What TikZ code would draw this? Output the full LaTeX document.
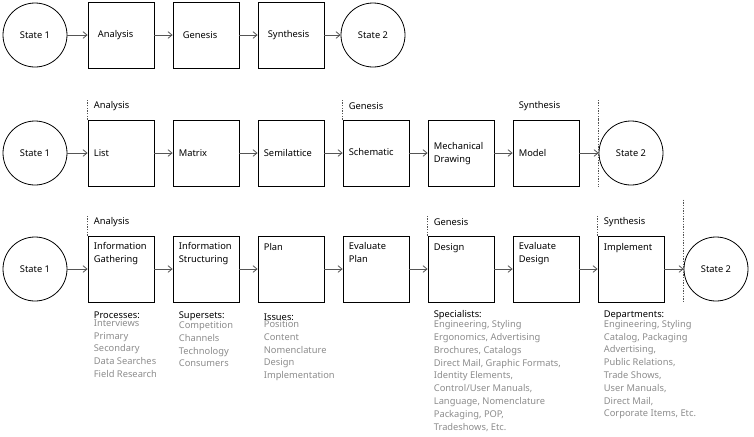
\documentclass[tikz,border=0pt]{standalone}
\usepackage{fontspec}
\setmainfont{Noto Sans}
\usetikzlibrary{arrows.meta}
\usetikzlibrary{calc}
\usetikzlibrary{positioning}
\definecolor{linegray}{HTML}{555555}
\definecolor{itemgray}{HTML}{8C8C8C}

\begin{document}
\begin{tikzpicture}[
  x=0.75pt, y=-0.75pt,
  every node/.style={font=\fontsize{7}{9.6}\selectfont},
  > = {Straight Barb[length=3pt,width=5pt]},
  box/.style = {draw,line width=0.6pt,rectangle,minimum size=49.5pt,inner sep=0pt},
  state/.style = {draw,line width=0.6pt,circle,minimum size=48pt,inner sep=0pt},
  flow/.style = {->,draw=linegray,line width=0.6pt},
  phase/.style = {draw=linegray,line width=0.4pt,dash pattern=on 1pt off 1pt},
  txt/.style = {inner sep=0pt,align=left},
  items/.style = {inner sep=0pt,align=left,text=itemgray}
  ]
	\useasboundingbox (0,0) rectangle (754,436);

	% first row
	\node[state] (a1) at (35,35) {State 1};
	\node[box] (a2) at (121,35) {};
	\node[box] (a3) at (206,35) {};
	\node[box] (a4) at (291,35) {};
	\node[state] (a5) at (373,35) {State 2};
	\node[txt,anchor=west] at ([xshift=7.5pt]a2.west) {Analysis};
	\node[txt,anchor=west] at ([xshift=7.5pt]a3.west) {Genesis};
	\node[txt,anchor=west] at ([xshift=7.5pt]a4.west) {Synthesis};
	\draw[flow] (a1) -- (a2);
	\draw[flow] (a2) -- (a3);
	\draw[flow] (a3) -- (a4);
	\draw[flow] (a4) -- (a5);

	% second row
	\node[state] (b1) at (35,153) {State 1};
	\node[box] (b2) at (121,153) {};
	\node[box] (b3) at (206,153) {};
	\node[box] (b4) at (291,153) {};
	\node[box] (b5) at (376,153) {};
	\node[box] (b6) at (461,153) {};
	\node[box] (b7) at (546,153) {};
	\node[state] (b8) at (631,153) {State 2};
	\node[txt,anchor=west] at ([xshift=4.5pt]b2.west) {List};
	\node[txt,anchor=west] at ([xshift=4.5pt]b3.west) {Matrix};
	\node[txt,anchor=west] at ([xshift=4.5pt]b4.west) {Semilattice};
	\node[txt,anchor=west] at ([xshift=4.5pt,yshift=1pt]b5.west) {Schematic};
	\node[txt,anchor=north west] at ([xshift=4.5pt,yshift=-17pt]b6.north west) {Mechanical\\Drawing};
	\node[txt,anchor=west] at ([xshift=4.5pt]b7.west) {Model};
	\draw[flow] (b1) -- (b2);
	\draw[flow] (b2) -- (b3);
	\draw[flow] (b3) -- (b4);
	\draw[flow] (b4) -- (b5);
	\draw[flow] (b5) -- (b6);
	\draw[flow] (b6) -- (b7);
	\draw[flow] (b7) -- (b8);
	\draw[phase] (b2.north west) -- ++(0,-20) node[txt,text=black,anchor=west,xshift=4.5pt,yshift=-5pt] {Analysis};
	\draw[phase] (b5.north west) -- ++(0,-20) node[txt,text=black,anchor=west,xshift=4.5pt,yshift=-5pt] {Genesis};
	\draw[phase] (b8.west |- b7.north) -- ++(0,-20) node[txt,text=black,anchor=west,xshift=-60pt,yshift=-5pt] {Synthesis};
	\draw[phase] (b8.west |- b7.north) -- (b8.west |- b7.south);

	% third row
	\node[state] (c1) at (35,269) {State 1};
	\node[box] (c2) at (121,269) {};
	\node[box] (c3) at (206,269) {};
	\node[box] (c4) at (291,269) {};
	\node[box] (c5) at (376,269) {};
	\node[box] (c6) at (461,269) {};
	\node[box] (c7) at (546,269) {};
	\node[box] (c8) at (631,269) {};
	\node[state] (c9) at (716,269) {State 2};
	\node[txt,anchor=north west] at ([xshift=4.5pt,yshift=-5pt]c2.north west) {Information\\Gathering};
	\node[txt,anchor=north west] at ([xshift=4.5pt,yshift=-5pt]c3.north west) {Information\\Structuring};
	\node[txt,anchor=north west] at ([xshift=4.5pt,yshift=-6pt]c4.north west) {Plan};
	\node[txt,anchor=north west] at ([xshift=4.5pt,yshift=-5pt]c5.north west) {Evaluate\\Plan};
	\node[txt,anchor=north west] at ([xshift=4.5pt,yshift=-6pt]c6.north west) {Design};
	\node[txt,anchor=north west] at ([xshift=4.5pt,yshift=-5pt]c7.north west) {Evaluate\\Design};
	\node[txt,anchor=north west] at ([xshift=4.5pt,yshift=-6pt]c8.north west) {Implement};
	\draw[flow] (c1) -- (c2);
	\draw[flow] (c2) -- (c3);
	\draw[flow] (c3) -- (c4);
	\draw[flow] (c4) -- (c5);
	\draw[flow] (c5) -- (c6);
	\draw[flow] (c6) -- (c7);
	\draw[flow] (c7) -- (c8);
	\draw[flow] (c8) -- (c9);
	\draw[phase] (c2.north west) -- ++(0,-20) node[txt,anchor=west,xshift=4.5pt,yshift=-5pt] {Analysis};
	\draw[phase] (c6.north west) -- ++(0,-20) node[txt,anchor=west,xshift=4.5pt,yshift=-5pt] {Genesis};
	\draw[phase] (c8.north west) -- ++(0,-20) node[txt,anchor=west,xshift=4.5pt,yshift=-5pt] {Synthesis};
	\draw[phase] ($(c9.west |- c8.north) + (0,-36)$) -- (c9.west |- c8.south);

	% lists under the boxes
	\node[txt,anchor=north west] (p2) at ([xshift=4.5pt,yshift=-7pt]c2.south west) {Processes:};
	\node[items,anchor=north west] at (p2.south west) {Interviews\\Primary\\Secondary\\Data Searches\\Field Research};
	\node[txt,anchor=north west] (p3) at ([xshift=4.5pt,yshift=-7pt]c3.south west) {Supersets:};
	\node[items,anchor=north west] at (p3.south west) {Competition\\Channels\\Technology\\Consumers};
	\node[txt,anchor=north west] (p4) at ([xshift=4.5pt,yshift=-8pt]c4.south west) {Issues:};
	\node[items,anchor=north west] at (p4.south west) {Position\\Content\\Nomenclature\\Design\\Implementation};
	\node[txt,anchor=north west] (p6) at ([xshift=4.5pt,yshift=-6pt]c6.south west) {Specialists:};
	\node[items,anchor=north west] at (p6.south west) {Engineering, Styling\\Ergonomics, Advertising\\Brochures, Catalogs\\Direct Mail, Graphic Formats,\\Identity Elements,\\Control/User Manuals,\\Language, Nomenclature\\Packaging, POP,\\Tradeshows, Etc.};
	\node[txt,anchor=north west] (p8) at ([xshift=4.5pt,yshift=-6pt]c8.south west) {Departments:};
	\node[items,anchor=north west] at (p8.south west) {Engineering, Styling\\Catalog, Packaging\\Advertising,\\Public Relations,\\Trade Shows,\\User Manuals,\\Direct Mail,\\Corporate Items, Etc.};
\end{tikzpicture}
\end{document}
